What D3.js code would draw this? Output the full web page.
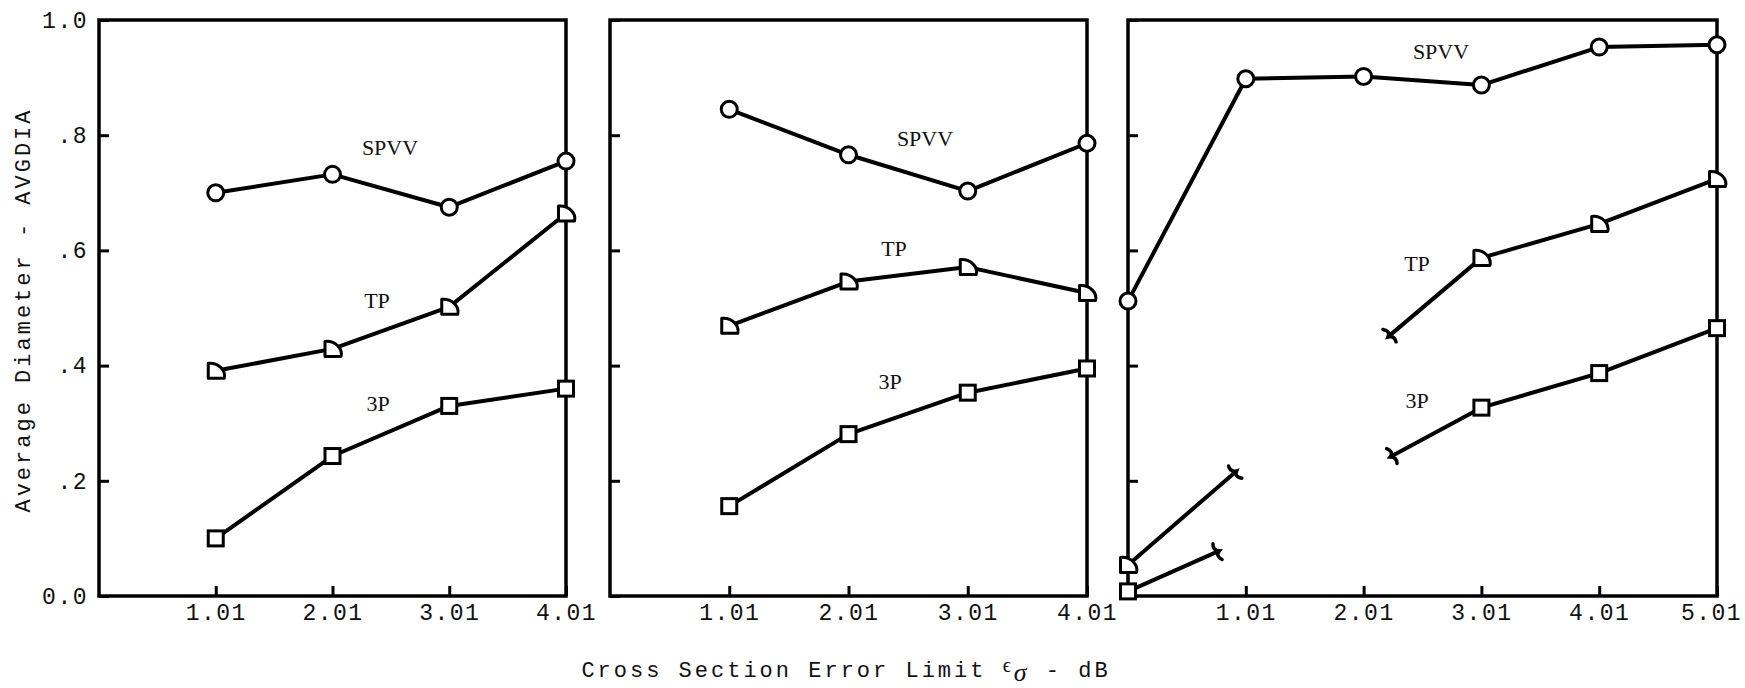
<!DOCTYPE html>
<html>
<head>
<meta charset="utf-8">
<script src="https://cdn.jsdelivr.net/npm/d3@7"></script>
<style>
  body { margin: 0; background: #fff; }
  svg { display: block; }
  .tick text { font-family: "Liberation Mono", "DejaVu Sans Mono", monospace; font-size: 23px; letter-spacing: 1.5px; fill: #111; }
  .lbl { font-family: "Liberation Serif", serif; font-size: 22px; fill: #111; }
  .title { font-family: "Liberation Mono", monospace; font-size: 22px; letter-spacing: 3px; fill: #111; }
</style>
</head>
<body>
<div id="chart"></div>
<script>
// tick values
const xTicks4 = [1.01, 2.01, 3.01, 4.01];
const xTicks5 = [1.01, 2.01, 3.01, 4.01, 5.01];
const yTicks = [0, 0.2, 0.4, 0.6, 0.8, 1.0];
const yTickLabels = ["0.0", ".2", ".4", ".6", ".8", "1.0"];

// panel 1
const xA = [1.01, 2.01, 3.01, 4.01];
const spvvA = [0.70, 0.732, 0.675, 0.755];
const tpA = [0.391, 0.429, 0.502, 0.664];
const p3A = [0.10, 0.243, 0.330, 0.36];

// panel 2
const xB = [1.01, 2.01, 3.01, 4.01];
const spvvB = [0.845, 0.766, 0.703, 0.786];
const tpB = [0.469, 0.546, 0.571, 0.526];
const p3B = [0.156, 0.281, 0.353, 0.395];

// panel 3
const xC = [0.01, 1.01, 2.01, 3.01, 4.01, 5.01];
const spvvC = [0.512, 0.898, 0.902, 0.887, 0.953, 0.957];
const xC2 = [3.01, 4.01, 5.01];
const tpC = [0.587, 0.646, 0.724];
const p3C = [0.327, 0.387, 0.465];
// broken pieces (x, y) -- last point ends in a break mark
const tpCTail = [[3.01, 0.587], [2.23, 0.452]];
const p3CTail = [[3.01, 0.327], [2.25, 0.243]];
const tpCStart = [[0.01, 0.054], [0.92, 0.215]];
const p3CStart = [[0.01, 0.008], [0.77, 0.077]];

const width = 1745, height = 688;
const plotTop = 20, plotBottom = 596;

const svg = d3.select("#chart").append("svg")
    .attr("width", width).attr("height", height)
    .attr("viewBox", [0, 0, width, height]);
svg.append("rect").attr("width", width).attr("height", height).attr("fill", "#fff");

const y = d3.scaleLinear().domain([0, 1]).range([plotBottom, plotTop]);

const panels = [
  {left: 99, right: 566, xMax: 4.01, ticks: xTicks4, labels: true,
   lines: [[xA, spvvA, "circle"], [xA, tpA, "tp"], [xA, p3A, "square"]],
   broken: [],
   text: [["SPVV", 390, 155], ["TP", 377, 308], ["3P", 378, 411]]},
  {left: 610, right: 1087, xMax: 4.01, ticks: xTicks4, labels: false,
   lines: [[xB, spvvB, "circle"], [xB, tpB, "tp"], [xB, p3B, "square"]],
   broken: [],
   text: [["SPVV", 925, 146], ["TP", 894, 256], ["3P", 890, 389]]},
  {left: 1128, right: 1717, xMax: 5.01, ticks: xTicks5, labels: false,
   lines: [[xC, spvvC, "circle"], [xC2, tpC, "tp"], [xC2, p3C, "square"]],
   broken: [[tpCTail, null], [p3CTail, null], [tpCStart, "tp"], [p3CStart, "square"]],
   text: [["SPVV", 1441, 59], ["TP", 1417, 271], ["3P", 1417, 408]]}
];

function marker(g, kind, cx, cy) {
  if (kind === "circle") {
    g.append("circle").attr("cx", cx).attr("cy", cy).attr("r", 8)
      .attr("fill", "#fff").attr("stroke", "#000").attr("stroke-width", 3);
  } else if (kind === "square") {
    g.append("rect").attr("x", cx - 7.5).attr("y", cy - 7.5).attr("width", 15).attr("height", 15)
      .attr("fill", "#fff").attr("stroke", "#000").attr("stroke-width", 3);
  } else {
    const s = 7.5;
    g.append("path")
      .attr("d", `M${cx - s},${cy + s}L${cx - s},${cy - s}C${cx + 3},${cy - s - 1} ${cx + s + 3},${cy} ${cx + s + 1},${cy + s}Z`)
      .attr("fill", "#fff").attr("stroke", "#000").attr("stroke-width", 3).attr("stroke-linejoin", "round");
  }
}

panels.forEach((p, pi) => {
  const x = d3.scaleLinear().domain([0.01, p.xMax]).range([p.left, p.right]);
  const g = svg.append("g");

  // axes
  const ax = g.append("g").attr("transform", `translate(0,${plotBottom})`)
    .call(d3.axisBottom(x).tickValues(p.ticks).tickSize(-10).tickPadding(8).tickFormat(d3.format(".2f")));
  ax.select(".domain").remove();
  ax.selectAll(".tick line").attr("stroke", "#000").attr("stroke-width", 3);
  if (pi === 2) ax.selectAll(".tick text").filter(d => d === 5.01).attr("dx", -6);

  const ay = g.append("g").attr("transform", `translate(${p.left},0)`)
    .call(d3.axisLeft(y).tickValues(yTicks).tickSize(-10).tickPadding(11)
      .tickFormat((d, i) => p.labels ? yTickLabels[i] : ""));
  ay.select(".domain").remove();
  ay.selectAll(".tick line").attr("stroke", "#000").attr("stroke-width", 3);

  // frame
  g.append("rect").attr("x", p.left).attr("y", plotTop)
    .attr("width", p.right - p.left).attr("height", plotBottom - plotTop)
    .attr("fill", "none").attr("stroke", "#000").attr("stroke-width", 3.5);

  const line = d3.line().x(d => x(d[0])).y(d => y(d[1]));

  // broken segments
  p.broken.forEach(([pts, kind]) => {
    g.append("path").attr("d", line(pts)).attr("fill", "none")
      .attr("stroke", "#000").attr("stroke-width", 4);
    const a = pts[pts.length - 2], b = pts[pts.length - 1];
    const x0 = x(a[0]), y0 = y(a[1]), x1 = x(b[0]), y1 = y(b[1]);
    const ang = Math.atan2(y1 - y0, x1 - x0) * 180 / Math.PI;
    g.append("path")
      .attr("transform", `translate(${x1},${y1}) rotate(${ang})`)
      .attr("d", "M-1,-9Q-4,-3 2,0Q-4,3 1,9")
      .attr("fill", "none").attr("stroke", "#000").attr("stroke-width", 3.5).attr("stroke-linecap", "round");
    if (kind) marker(g, kind, x(a[0]), y(a[1]));
  });

  // series
  p.lines.forEach(([xs, ys, kind]) => {
    const pts = xs.map((v, i) => [v, ys[i]]);
    g.append("path").attr("d", line(pts)).attr("fill", "none")
      .attr("stroke", "#000").attr("stroke-width", 4).attr("stroke-linejoin", "round");
    pts.forEach(d => marker(g, kind, x(d[0]), y(d[1])));
  });

  p.text.forEach(([t, tx, ty]) => {
    g.append("text").attr("class", "lbl").attr("x", tx).attr("y", ty)
      .attr("text-anchor", "middle").text(t);
  });
});

// axis titles
svg.append("text").attr("class", "title")
  .attr("transform", "translate(30,310) rotate(-90)")
  .attr("text-anchor", "middle").text("Average Diameter - AVGDIA");

const xt = svg.append("text").attr("class", "title")
  .attr("x", 846).attr("y", 677).attr("text-anchor", "middle");
xt.append("tspan").text("Cross Section Error Limit ");
xt.append("tspan").attr("font-family", "Liberation Serif").attr("font-size", 20).attr("dy", -5).text("ϵ");
xt.append("tspan").attr("font-family", "Liberation Serif").attr("font-style", "italic")
  .attr("font-size", 26).attr("dy", 9).text("σ");
xt.append("tspan").attr("dy", -4).text(" - dB");
</script>
</body>
</html>
